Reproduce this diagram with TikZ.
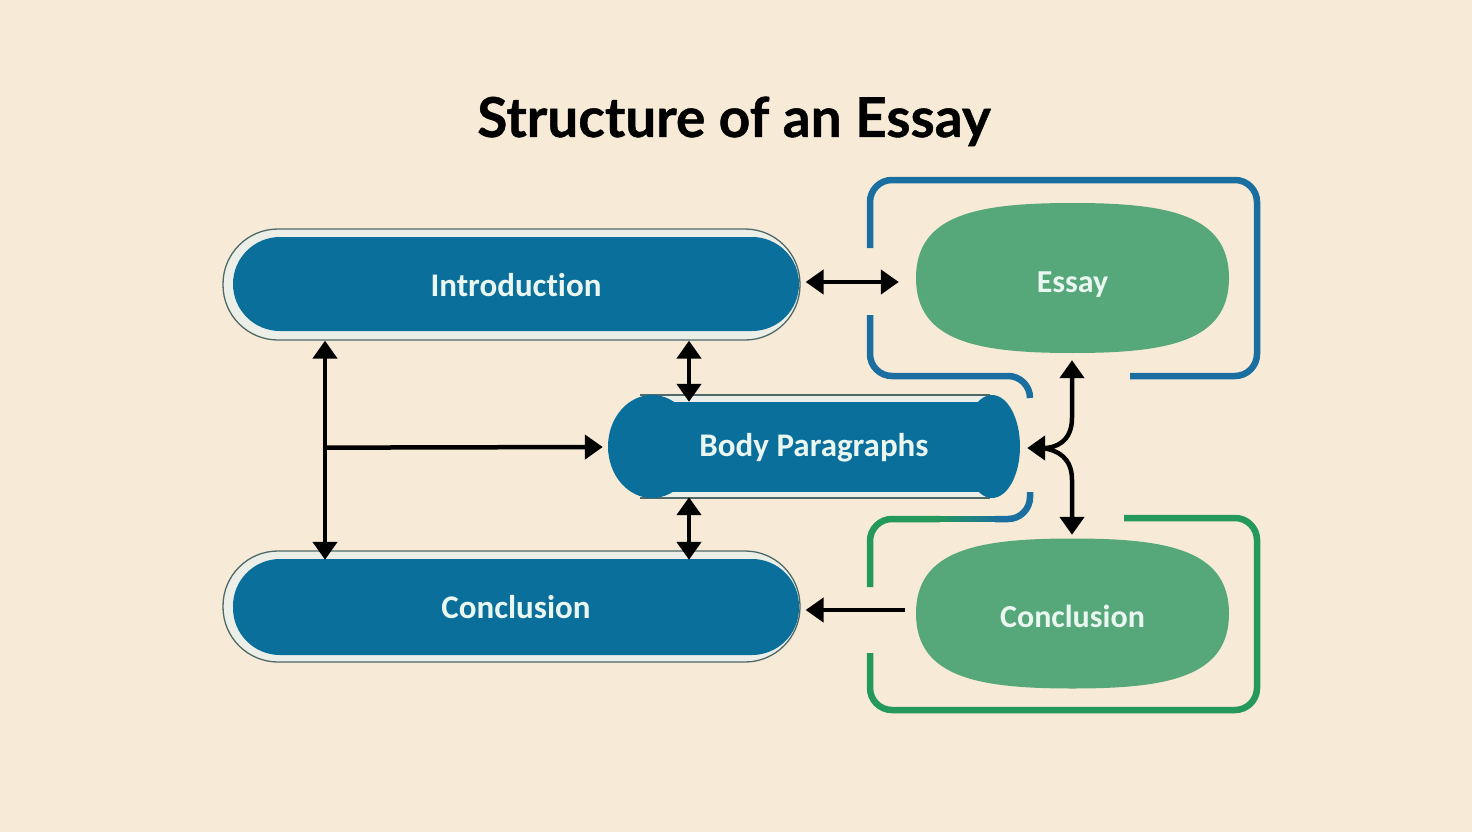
\documentclass[tikz,border=0pt]{standalone}
\usepackage{fontspec}
\setmainfont{Carlito}[Ligatures={NoCommon}]
\newfontfamily\titlefont{Lato}[BoldFeatures={FakeBold=0.8}]
\usetikzlibrary{arrows.meta,calc}
\definecolor{bg}{HTML}{F7EBD8}
\definecolor{bfill}{HTML}{0A6F9A}
\definecolor{gfill}{HTML}{56A77A}
\definecolor{bline}{HTML}{1B6EA0}
\definecolor{gline}{HTML}{25985C}
\definecolor{band}{HTML}{ECEFE7}
\definecolor{rim}{HTML}{4F6868}
\definecolor{lbl}{HTML}{EAF7F1}
\newcommand{\blobpath}[2]{% center x, center y ; half sizes 156.5 x 75
  (#1,#2-75) .. controls (#1+94,#2-75) and (#1+156.5,#2-64) .. (#1+156.5,#2)
  .. controls (#1+156.5,#2+64) and (#1+94,#2+75) .. (#1,#2+75)
  .. controls (#1-94,#2+75) and (#1-156.5,#2+64) .. (#1-156.5,#2)
  .. controls (#1-156.5,#2-64) and (#1-94,#2-75) .. cycle}
\begin{document}
\begin{tikzpicture}[x=1pt,y=-1pt,
  >={Triangle[length=18pt,width=24pt]},
  conn/.style={line width=4.5pt,black},
  frame/.style={draw=rim,line width=1.3pt,fill=band,rounded corners=55pt,inner sep=0pt},
  bluebox/.style={fill=bfill,rounded corners=47pt,inner sep=0pt,text=lbl,
     font=\fontsize{33}{40}\selectfont\bfseries,text depth=0pt},
  greenbox/.style={inner sep=0pt,text=lbl,
     font=\fontsize{32}{40}\selectfont\bfseries,text depth=0pt,minimum width=313pt},
  bracket/.style={line width=6.5pt,rounded corners=22pt},
]
\fill[bg] (0,0) rectangle (1472,832);
\useasboundingbox (0,0) rectangle (1472,832);

% title
\node[anchor=base,font=\titlefont\fontsize{55}{64}\selectfont\bfseries] (title) at (734,137) {Structure of an Essay};

% blue brackets around Essay
\draw[bracket,bline] (870,248) -- (870,180) -- (1257,180) -- (1257,376) -- (1130,376);
\draw[bracket,bline] (870,315) -- (870,376) -- (1030,376) -- (1030,398);
% joined green/blue bracket below body
\draw[bracket,gline] (870,587) -- (870,519) -- (940,519);
\draw[bracket,bline] (1030,492) -- (1030,519) -- (995,519);
\foreach \i in {0,...,13}{
  \pgfmathsetmacro{\p}{100-\i*100/13}
  \draw[line width=6.5pt,gline!\p!bline] (935+\i*5,519) -- (942+\i*5,519);
}
% green bracket around Conclusion
\draw[bracket,gline] (1124,518) -- (1257,518) -- (1257,710) -- (870,710) -- (870,653);

% left pills
\node[frame,minimum width=577pt,minimum height=111pt] (introframe) at (511.5,284.5) {};
\node[bluebox,minimum width=566pt,minimum height=94pt,text height=24pt] (intro) at (516,284) {Introduction};
\node[frame,minimum width=577pt,minimum height=111pt] (conclframe) at (511.5,606.5) {};
\node[bluebox,minimum width=566pt,minimum height=96pt,text height=22pt] (concl) at (516,607) {Conclusion};

% body paragraphs cylinder
\fill[band] (640,395) rectangle (990,498);
\draw[rim,line width=1.3pt] (640,395) -- (990,395) (640,498) -- (990,498);
\fill[bfill] (632,402) rectangle (1000,492);
\fill[bfill] (652,446.5) ellipse [x radius=44pt,y radius=51.5pt];
\fill[bfill] (992,446.5) ellipse [x radius=28pt,y radius=51.5pt];
\node[inner sep=0pt,minimum width=412pt,minimum height=103pt,text=lbl,
  font=\fontsize{33}{40}\selectfont\bfseries,text height=20pt,text depth=0pt] (body) at (814,446.5) {Body Paragraphs};

% green blobs
\fill[gfill] \blobpath{1072.5}{278};
\fill[gfill] \blobpath{1072.5}{613.5};
\node[greenbox,minimum height=150pt,text height=28pt] (essay) at (1072.5,278) {Essay};
\node[greenbox,minimum height=149pt,text height=27pt] (concl2) at (1072.5,613.5) {Conclusion};

% connectors
\draw[conn,<->] ($(introframe.east)+(5,-2.5)$) -- ($(essay.west)+(-17,4)$);
\draw[conn,<->] ($(introframe.south)+(-186.5,0)$) -- ($(concl.north)+(-191,1)$);
\coordinate (jn) at ($(introframe.south)+(-186.5,107)$);
\draw[conn,->] (jn) -- ($(body.west)+(-5,0.5)$);
\draw[conn,<->] ($(introframe.south)+(177.5,0)$) -- ($(body.north)+(-125,7)$);
\draw[conn,<->] ($(body.south)+(-125,-1)$) -- ($(concl.north)+(173,1)$);
\draw[conn,->] ($(concl2.west)+(-11,-3.5)$) -- ($(conclframe.east)+(5,3.5)$);
% forked connector
\draw[conn,<->] ($(essay.south)+(-0.5,7)$) -- (1072,418)
   .. controls (1072,442) and (1055,448) .. ($(body.east)+(7,1.5)$);
\draw[conn,<-] ($(concl2.north)+(-0.5,-4)$) -- (1072,480)
   .. controls (1072,458) and (1058,450) .. ($(body.east)+(22,1.5)$);
\end{tikzpicture}
\end{document}
